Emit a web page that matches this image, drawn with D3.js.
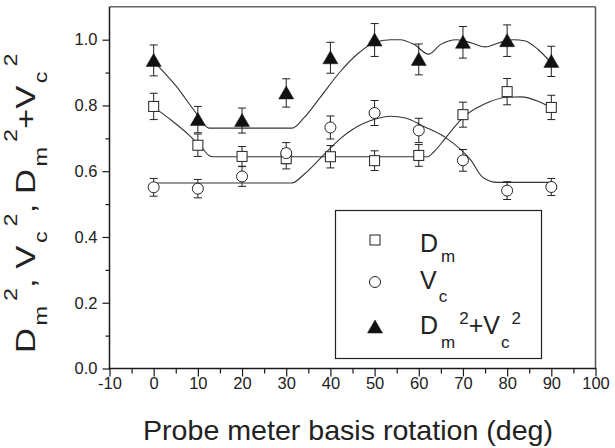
<!DOCTYPE html>
<html><head><meta charset="utf-8">
<script src="https://cdn.jsdelivr.net/npm/d3@7"></script>
<style>
body{margin:0;background:#fff}
svg{display:block}
text{font-family:"Liberation Sans",Arial,Helvetica,sans-serif}
</style>
</head><body>
<svg id="chart" width="615" height="448"></svg>
<script>
// ---------- data ----------
const angles = [0,10,20,30,40,50,60,70,80,90];
const dm2     = [0.797,0.679,0.645,0.638,0.644,0.632,0.648,0.772,0.842,0.794];
const dm2Err  = [0.040,0.034,0.030,0.031,0.034,0.030,0.033,0.038,0.040,0.037];
const vc2     = [0.551,0.547,0.584,0.655,0.733,0.777,0.724,0.633,0.541,0.552];
const vc2Err  = [0.027,0.028,0.030,0.032,0.035,0.038,0.037,0.033,0.027,0.026];
const sum2    = [0.937,0.757,0.754,0.838,0.945,0.999,0.940,0.992,0.997,0.934];
const sum2Err = [0.047,0.040,0.038,0.043,0.047,0.050,0.047,0.048,0.048,0.046];

// fitted curves
const dm2FitX  = [0,4,8,11,12.5,13.5,62,63.5,66,70,75,80,83,87,90];
const dm2FitY  = [0.795,0.755,0.71,0.67,0.648,0.644,0.644,0.66,0.70,0.763,0.805,0.825,0.826,0.813,0.793];
const vc2FitX  = [0,31.3,34,38.5,42.3,45,50,53.6,57,61,66,71.7,74.6,77.8,90];
const vc2FitY  = [0.564,0.564,0.59,0.65,0.70,0.727,0.758,0.767,0.762,0.737,0.703,0.635,0.58,0.566,0.566];
const sumFitX  = [0,5,10,12.5,31.3,34,38,42.3,46,49.8,53.6,55.8,59,62.2,64.9,68.6,72,75,78,81.4,84.1,87,90];
const sumFitY  = [0.934,0.86,0.77,0.731,0.731,0.762,0.83,0.904,0.955,0.99,1.0,1.0,0.985,0.956,0.985,1.0,0.99,0.978,0.99,1.0,0.996,0.97,0.929];

const xMajor = [-10,0,10,20,30,40,50,60,70,80,90,100];
const xMinor = [-5,5,15,25,35,45,55,65,75,85,95];
const yMajor = [0,0.2,0.4,0.6,0.8,1.0];
const yMinor = [0.1,0.3,0.5,0.7,0.9];
const xTitle = "Probe meter basis rotation (deg)";

// ---------- layout ----------
const svg = d3.select("#chart");
const L = 109.5, R = 595.5, T = 6.8, B = 368.5;
const x = d3.scaleLinear().domain([-10,100]).range([L,R]);
const y = d3.scaleLinear().domain([0,1.1]).range([B,T]);
const ink = "#1a1a1a";

// axes
const gx = svg.append("g").attr("transform",`translate(0,${B})`);
gx.call(d3.axisBottom(x).tickValues(xMajor).tickSize(8).tickPadding(1).tickFormat(d=>String(d)));
gx.append("g").call(d3.axisBottom(x).tickValues(xMinor).tickSize(5).tickFormat(""));
const gy = svg.append("g").attr("transform",`translate(${L},0)`);
gy.call(d3.axisLeft(y).tickValues(yMajor).tickSize(7).tickPadding(5).tickFormat(d=>d.toFixed(1)));
gy.append("g").call(d3.axisLeft(y).tickValues(yMinor).tickSize(4).tickFormat(""));
svg.selectAll(".domain").remove();
svg.selectAll(".tick line").attr("stroke",ink).attr("stroke-width",1.2);
svg.selectAll(".tick text").attr("fill","#222").style("font-size","16.5px")
   .style("font-family",'"Liberation Sans",Arial,sans-serif');

// frame
svg.append("line").attr("x1",L).attr("x2",R).attr("y1",T).attr("y2",T).attr("stroke","#666").attr("stroke-width",1.5);
svg.append("line").attr("x1",R).attr("x2",R).attr("y1",T).attr("y2",B).attr("stroke","#555").attr("stroke-width",1.5);
svg.append("line").attr("x1",L).attr("x2",L).attr("y1",T).attr("y2",B+0.75).attr("stroke",ink).attr("stroke-width",1.5);
svg.append("line").attr("x1",L-0.75).attr("x2",R+0.75).attr("y1",B).attr("y2",B).attr("stroke",ink).attr("stroke-width",1.5);

// fit curves
const line = d3.line().x(d=>x(d[0])).y(d=>y(d[1])).curve(d3.curveMonotoneX);
[[dm2FitX,dm2FitY],[vc2FitX,vc2FitY],[sumFitX,sumFitY]].forEach(([xs,ys])=>{
  svg.append("path").attr("d",line(d3.zip(xs,ys))).attr("fill","none")
     .attr("stroke","#333").attr("stroke-width",1.1);
});

// error bars
function errBars(vals, errs){
  const g = svg.append("g").attr("stroke","#222").attr("stroke-width",1);
  angles.forEach((a,i)=>{
    const cx = x(a), y0 = y(vals[i]-errs[i]), y1 = y(vals[i]+errs[i]);
    g.append("line").attr("x1",cx).attr("x2",cx).attr("y1",y0).attr("y2",y1);
    g.append("line").attr("x1",cx-4).attr("x2",cx+4).attr("y1",y0).attr("y2",y0);
    g.append("line").attr("x1",cx-4).attr("x2",cx+4).attr("y1",y1).attr("y2",y1);
  });
}
errBars(dm2,dm2Err); errBars(vc2,vc2Err); errBars(sum2,sum2Err);

// markers
const sq = (g,cx,cy)=>g.append("rect").attr("x",cx-5).attr("y",cy-5).attr("width",10).attr("height",10)
    .attr("fill","#fff").attr("stroke","#222").attr("stroke-width",1);
const ci = (g,cx,cy)=>g.append("circle").attr("cx",cx).attr("cy",cy).attr("r",5.5)
    .attr("fill","#fff").attr("stroke","#222").attr("stroke-width",1);
const tri = (g,cx,cy)=>g.append("path").attr("d",`M${cx},${cy-7}L${cx+7.5},${cy+6}L${cx-7.5},${cy+6}Z`)
    .attr("fill","#111").attr("stroke","#111").attr("stroke-width",0.5);
const gm = svg.append("g");
angles.forEach((a,i)=>{ sq(gm,x(a),y(dm2[i])); });
angles.forEach((a,i)=>{ ci(gm,x(a),y(vc2[i])); });
angles.forEach((a,i)=>{ tri(gm,x(a),y(sum2[i])); });

// legend
const lg = svg.append("g");
lg.append("rect").attr("x",335.5).attr("y",210.5).attr("width",206).attr("height",148)
  .attr("fill","#fff").attr("stroke","#222").attr("stroke-width",1.2);
sq(lg,375,240); ci(lg,375,282); tri(lg,375,327);
function richText(parent, parts, big, small){
  const t = parent.append("text").attr("fill","#222");
  parts.forEach(p=>{
    const ts = t.append("tspan").text(p.t).style("font-size",(p.s?small:big)+"px");
    if(p.dx) ts.attr("dx",p.dx);
    if(p.dy) ts.attr("dy",p.dy);
  });
  return t;
}
richText(lg,[{t:"D"},{t:"m",s:1,dx:3,dy:10}],25,17).attr("x",420).attr("y",252);
richText(lg,[{t:"V"},{t:"c",s:1,dx:2,dy:13}],25,17).attr("x",420).attr("y",288.5);
richText(lg,[{t:"D"},{t:"m",s:1,dx:3,dy:14},{t:"2",s:1,dx:4,dy:-24},{t:"+V",dx:0,dy:10},
             {t:"c",s:1,dx:1,dy:14},{t:"2",s:1,dx:2,dy:-24}],25,17).attr("x",420).attr("y",333.5);

// x title
svg.append("text").attr("fill","#222").style("font-size","28px")
  .attr("text-anchor","middle").attr("x",348).attr("y",440)
  .attr("textLength",410).attr("lengthAdjust","spacingAndGlyphs").text(xTitle);

// y title (rotated)
const yt = richText(svg,[
  {t:"D"},{t:"m",s:1,dx:2,dy:12},{t:"2",s:1,dx:4,dy:-30},
  {t:", ",dx:0,dy:18},{t:"V"},{t:"c",s:1,dx:2,dy:12},{t:"2",s:1,dx:4,dy:-30},
  {t:", ",dy:18},{t:"D"},{t:"m",s:1,dx:2,dy:12},{t:"2",s:1,dx:4,dy:-30},
  {t:"+",dy:18},{t:"V"},{t:"c",s:1,dx:2,dy:12},{t:"2",s:1,dx:4,dy:-30}
],28,19).attr("x",0).attr("y",0);
const w = yt.node().getComputedTextLength();
const sx = 270 / w;
yt.attr("transform",`translate(35,353) rotate(-90) scale(${sx},1)`);
</script>
</body></html>
